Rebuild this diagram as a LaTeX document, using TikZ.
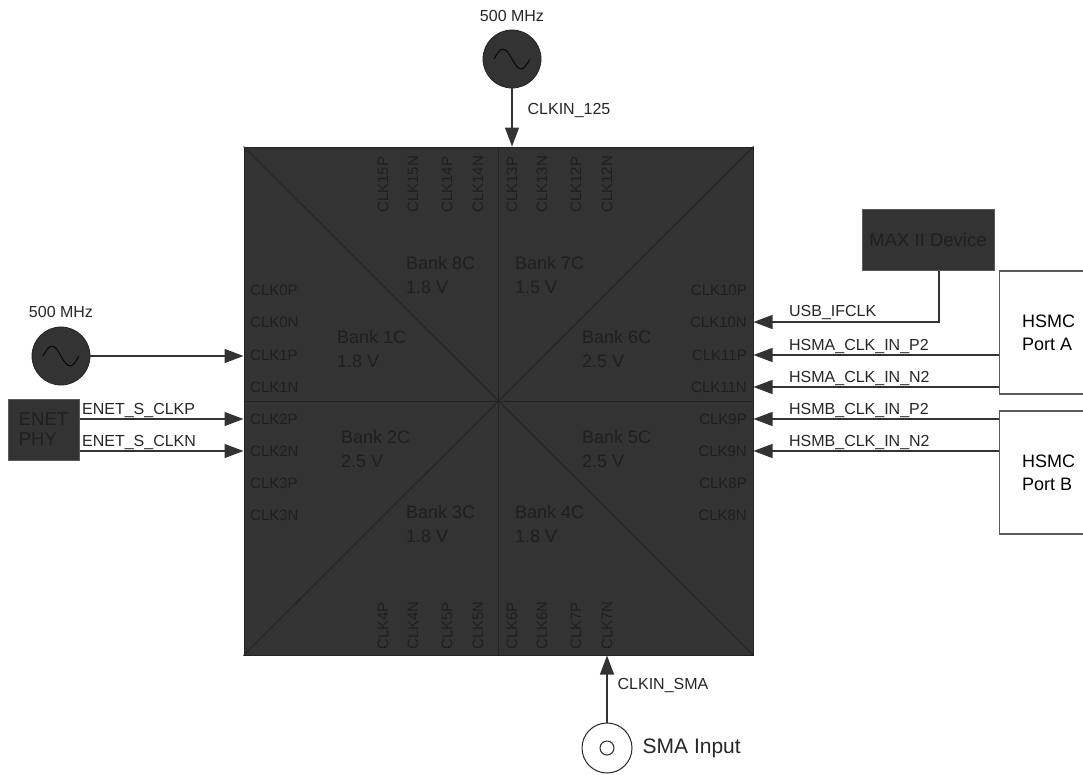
\documentclass[tikz,border=0pt]{standalone}
\usepackage{fontspec}
\setmainfont{Liberation Sans}
\usetikzlibrary{arrows.meta, positioning}

\definecolor{chipgray}{HTML}{333333}
\definecolor{pintext}{HTML}{232323}
\definecolor{wiregray}{HTML}{333333}
\definecolor{boxedge}{HTML}{5A5A5A}

\begin{document}
\begin{tikzpicture}[x=1pt, y=-1pt,
	chip/.style={draw=pintext, fill=chipgray, line width=1pt, minimum width=509pt, minimum height=508pt, inner sep=0pt},
	divider/.style={pintext, line width=0.9pt},
	pin/.style={font=\fontsize{15}{15}\selectfont, text=black!88, inner sep=0pt},
	bank/.style={font=\fontsize{18}{24}\selectfont, text=black!88, align=left, inner sep=0pt, anchor=west},
	sig/.style={wiregray, line width=1.3pt, -{Triangle[length=19pt, width=14pt]}},
	siglabel/.style={font=\fontsize{16}{16}\selectfont, text=black!85, inner sep=0pt, anchor=base west},
	osc/.style={circle, draw=pintext, fill=chipgray, line width=0.8pt, minimum size=58pt, inner sep=0pt},
	wave/.style={black, line width=0.8pt},
	darkbox/.style={draw=boxedge, fill=chipgray, line width=1pt, inner sep=0pt, text=black!88, font=\fontsize{18.5}{20}\selectfont},
	portbox/.style={draw=boxedge, line width=1.3pt, minimum width=98pt, minimum height=123pt, align=left, font=\fontsize{18}{23}\selectfont}]
	\useasboundingbox (0,0) rectangle (1083,774);
	\clip (0,0) rectangle (1083,774);

	% FPGA with its eight banks
	\node [chip] (chip) at (498.5,401) {};
	\draw [divider] (chip.north west) -- (chip.south east) (chip.north east) -- (chip.south west);
	\draw [divider] (chip.north) -- (chip.south) (chip.west) -- (chip.east);

	\foreach \name/\y in {CLK0P/290, CLK0N/322, CLK1P/355, CLK1N/387, CLK2P/419, CLK2N/451, CLK3P/483, CLK3N/515}
		\node [pin, anchor=west] (\name) at (250,\y) {\name};
	\foreach \name/\y in {CLK10P/290, CLK10N/322, CLK11P/355, CLK11N/387, CLK9P/419, CLK9N/451, CLK8P/483, CLK8N/515}
		\node [pin, anchor=east] (\name) at (747,\y) {\name};
	\foreach \name/\x in {CLK15P/383, CLK15N/413, CLK14P/447, CLK14N/478, CLK13P/512, CLK13N/542, CLK12P/576, CLK12N/607}
		\node [pin, anchor=west, rotate=90] (\name) at (\x,213) {\name};
	\foreach \name/\x in {CLK4P/383, CLK4N/413, CLK5P/447, CLK5N/478, CLK6P/512, CLK6N/542, CLK7P/576, CLK7N/607}
		\node [pin, anchor=west, rotate=90] (\name) at (\x,650) {\name};

	\node [bank] (bank8) at (406,275) {Bank 8C\\1.8 V};
	\node [bank] (bank7) at (515,275) {Bank 7C\\1.5 V};
	\node [bank] (bank1) at (337,349) {Bank 1C\\1.8 V};
	\node [bank] (bank6) at (582,349) {Bank 6C\\2.5 V};
	\node [bank] (bank2) at (341,449) {Bank 2C\\2.5 V};
	\node [bank] (bank5) at (582,449) {Bank 5C\\2.5 V};
	\node [bank] (bank3) at (406,524) {Bank 3C\\1.8 V};
	\node [bank] (bank4) at (515,524) {Bank 4C\\1.8 V};

	% oscillators
	\node [osc] (osctop) at (512,59) {};
	\node [osc] (oscleft) at (61,356) {};
	\node [siglabel, anchor=base, above=8pt of osctop] (freqtop) {500 MHz};
	\node [siglabel, anchor=base, above=9pt of oscleft] (freqleft) {500 MHz};
	\draw [wave] ([xshift=-18pt]osctop.center) sin ++(9,-10) cos ++(9,10) sin ++(9,10) cos ++(9,-10);
	\draw [wave] ([xshift=-18pt]oscleft.center) sin ++(9,-10) cos ++(9,10) sin ++(9,10) cos ++(9,-10);

	\draw [sig] (osctop.south) -- node [siglabel, pos=0.45, xshift=15pt] {CLKIN\_125} (osctop |- chip.north);
	\draw [sig] (oscleft.east) -- (oscleft -| chip.west);

	% ethernet PHY
	\node [darkbox, minimum width=71pt, minimum height=61pt, align=left] (enet) at (43.5,429.5) {ENET\\PHY};
	\draw [sig] (enet.east |- CLK2P) -- (chip.west |- CLK2P) node [siglabel, pos=0, xshift=2pt, yshift=5pt] {ENET\_S\_CLKP};
	\draw [sig] (enet.east |- CLK2N) -- (chip.west |- CLK2N) node [siglabel, pos=0, xshift=2pt, yshift=5pt] {ENET\_S\_CLKN};

	% MAX II and HSMC ports
	\node [darkbox, minimum width=132pt, minimum height=61pt] (maxii) at (928,239.5) {MAX II Device};
	\node [portbox, anchor=west] (porta) at (999,332.5) {HSMC\\Port A};
	\node [portbox, anchor=west] (portb) at (999,472.5) {HSMC\\Port B};

	\draw [sig] ([xshift=11pt]maxii.south) |- (chip.east |- CLK10N) node [siglabel, pos=1, xshift=35pt, yshift=6pt] {USB\_IFCLK};
	\draw [sig] (porta.west |- CLK11P) -- (chip.east |- CLK11P) node [siglabel, pos=1, xshift=35pt, yshift=5pt] {HSMA\_CLK\_IN\_P2};
	\draw [sig] (porta.west |- CLK11N) -- (chip.east |- CLK11N) node [siglabel, pos=1, xshift=35pt, yshift=5pt] {HSMA\_CLK\_IN\_N2};
	\draw [sig] (portb.west |- CLK9P) -- (chip.east |- CLK9P) node [siglabel, pos=1, xshift=35pt, yshift=5pt] {HSMB\_CLK\_IN\_P2};
	\draw [sig] (portb.west |- CLK9N) -- (chip.east |- CLK9N) node [siglabel, pos=1, xshift=35pt, yshift=5pt] {HSMB\_CLK\_IN\_N2};

	% SMA connector
	\node [circle, draw=black!85, line width=1pt, minimum size=50pt, inner sep=0pt] (sma) at (607,748) {};
	\node [circle, draw=black!85, line width=1pt, minimum size=14pt, inner sep=0pt] (smapin) at (sma) {};
	\node [font=\fontsize{21}{21}\selectfont, text=black!85, inner sep=0pt, right=10pt of sma] (smalabel) {SMA Input};
	\draw [sig] (sma.north) -- node [siglabel, pos=0.5, xshift=10pt] {CLKIN\_SMA} (sma |- chip.south);
\end{tikzpicture}
\end{document}
